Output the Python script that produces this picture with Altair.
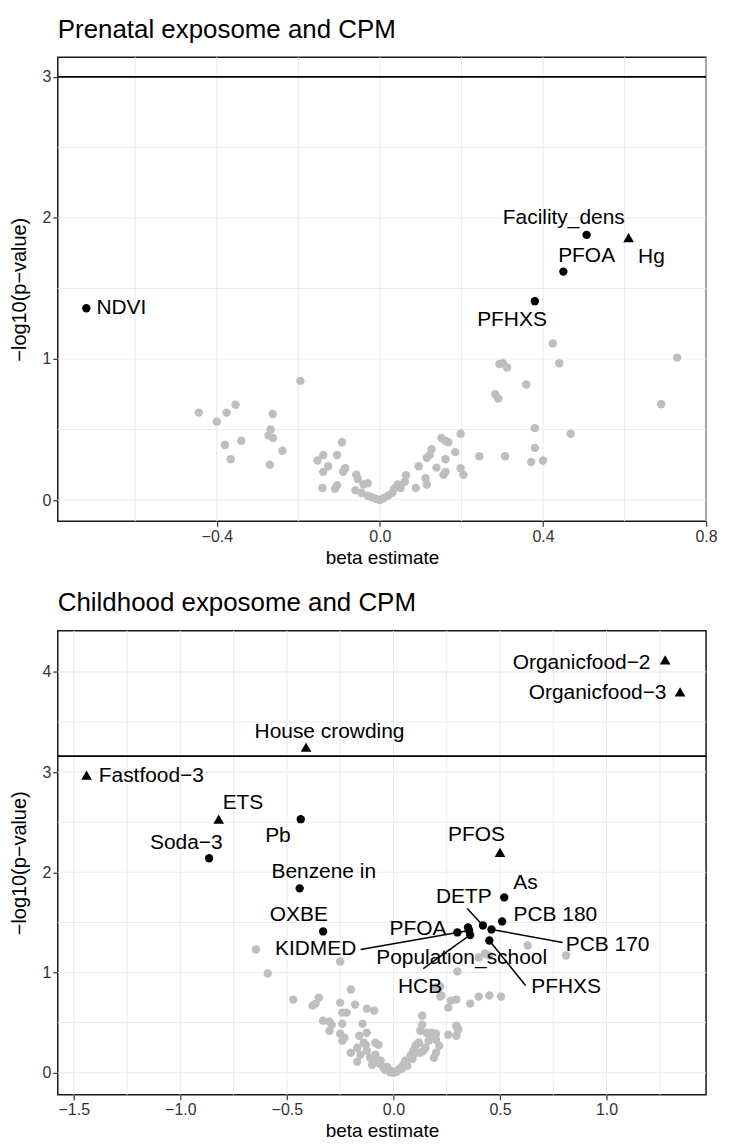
import altair as alt
import pandas as pd

FONT = "Liberation Sans"

# ---------------- Prenatal panel data ----------------
pre_grey_beta = [-0.444, -0.40, -0.376, -0.354, -0.38, -0.34, -0.366,
                 -0.263, -0.268, -0.273, -0.262, -0.239, -0.27, -0.195,
                 -0.153, -0.139, -0.127, -0.139, -0.093, -0.105, -0.085, -0.09,
                 -0.141, -0.11, -0.105, -0.058, -0.054, -0.04, -0.03,
                 -0.06, -0.045, -0.03, -0.02, -0.01, 0.0, 0.01, 0.02, 0.03, 0.035,
                 0.044, 0.051, 0.061, 0.064, 0.088, 0.095, 0.112, 0.115,
                 0.115, 0.122, 0.127, 0.139, 0.156, 0.161, 0.151, 0.161, 0.168,
                 0.161, 0.185, 0.198, 0.198, 0.205, 0.244, 0.307, 0.371, 0.40,
                 0.38, 0.38, 0.468, 0.283, 0.29, 0.359, 0.293, 0.302, 0.312,
                 0.44, 0.424, 0.729, 0.69]
pre_grey_logp = [0.62, 0.556, 0.62, 0.676, 0.39, 0.42, 0.29,
                 0.61, 0.50, 0.457, 0.44, 0.35, 0.25, 0.845,
                 0.28, 0.32, 0.24, 0.20, 0.41, 0.32, 0.225, 0.20,
                 0.085, 0.08, 0.105, 0.18, 0.15, 0.11, 0.12,
                 0.07, 0.05, 0.03, 0.02, 0.01, 0.0, 0.015, 0.03, 0.05, 0.08,
                 0.11, 0.085, 0.13, 0.176, 0.085, 0.24, 0.155, 0.11,
                 0.30, 0.32, 0.36, 0.23, 0.18, 0.20, 0.44, 0.42, 0.41,
                 0.29, 0.34, 0.47, 0.225, 0.18, 0.31, 0.31, 0.27, 0.28,
                 0.37, 0.51, 0.47, 0.75, 0.72, 0.82, 0.965, 0.97, 0.94,
                 0.97, 1.11, 1.01, 0.68]

pre_names = ["NDVI", "Facility_dens", "PFOA", "Hg", "PFHXS"]
pre_beta = [-0.72, 0.507, 0.45, 0.61, 0.38]
pre_logp = [1.36, 1.88, 1.62, 1.86, 1.41]
pre_shape = ["circle", "circle", "circle", "triangle", "circle"]
pre_text_beta = [-0.634, 0.451, 0.507, 0.666, 0.324]
pre_text_logp = [1.36, 2.0, 1.73, 1.72, 1.28]
pre_threshold = [3.0]
pre_xgrid = [-0.6, -0.4, -0.2, 0.0, 0.2, 0.4, 0.6, 0.8]
pre_ygrid = [0.0, 0.5, 1.0, 1.5, 2.0, 2.5, 3.0]
pre_xticks = [-0.4, 0.0, 0.4, 0.8]
pre_yticks = [0, 1, 2, 3]
pre_xdomain = [-0.79, 0.80]
pre_ydomain = [-0.15, 3.14]

# ---------------- Childhood panel data ----------------
ch_grey_beta = [-0.645, -0.59, -0.25, -0.20, -0.47, -0.35, -0.365, -0.38, -0.25, -0.18,
                -0.24, -0.22, -0.125, -0.09, -0.33, -0.30, -0.29, -0.30, -0.24, -0.145,
                0.135, 0.135, -0.25, -0.23, -0.24, -0.16, -0.125, -0.085, -0.07, -0.17,
                -0.155, -0.17, -0.125, -0.11, -0.10, -0.085, -0.06, -0.047, -0.023, 0.0,
                0.023, 0.047, 0.056, 0.08, 0.093, 0.103, 0.12, 0.126, 0.155, 0.18,
                0.20, 0.20, 0.215, 0.20, 0.19, 0.257, 0.295, 0.304, 0.257, 0.295,
                0.36, 0.40, 0.22, 0.20, 0.30, 0.40, 0.63, 0.81, 0.225, 0.27,
                0.45, 0.505, 0.43, 0.45, 0.22, 0.126, 0.30, 0.295, -0.03, -0.065,
                0.035, 0.065, 0.01, -0.01, 0.107, 0.117, 0.14, 0.17, -0.20, -0.14,
                -0.04, 0.04, -0.015, 0.015, 0.06, -0.08, 0.09, 0.15, 0.165, -0.13]
ch_grey_logp = [1.23, 0.99, 1.11, 0.83, 0.73, 0.75, 0.69, 0.67, 0.70, 0.68,
                0.60, 0.60, 0.64, 0.62, 0.52, 0.51, 0.48, 0.42, 0.49, 0.49,
                0.57, 0.48, 0.39, 0.35, 0.32, 0.37, 0.40, 0.30, 0.28, 0.25,
                0.18, 0.11, 0.22, 0.15, 0.08, 0.18, 0.12, 0.05, 0.03, 0.0,
                0.03, 0.08, 0.12, 0.17, 0.22, 0.27, 0.30, 0.20, 0.40, 0.40,
                0.39, 0.33, 0.27, 0.20, 0.15, 0.38, 0.47, 0.43, 0.65, 0.73,
                0.69, 0.76, 0.76, 0.85, 1.01, 1.15, 1.27, 1.17, 0.77, 0.72,
                0.77, 0.76, 1.19, 1.17, 0.86, 0.42, 0.45, 0.37, 0.06, 0.09,
                0.05, 0.07, 0.01, 0.015, 0.20, 0.30, 0.22, 0.38, 0.20, 0.30,
                0.03, 0.04, 0.005, 0.01, 0.09, 0.13, 0.14, 0.25, 0.32, 0.28]

ch_names = ["Organicfood\u22122", "Organicfood\u22123", "House crowding", "Fastfood\u22123",
            "ETS", "Pb", "Soda\u22123", "Benzene in", "OXBE", "KIDMED", "PFOS", "As",
            "PCB 180", "DETP", "PCB 170", "PFOA", "Population_school", "HCB", "PFHXS"]
ch_beta = [1.275, 1.345, -0.41, -1.44, -0.82, -0.435, -0.865, -0.44, -0.33, 0.355,
           0.50, 0.52, 0.51, 0.42, 0.46, 0.30, 0.35, 0.36, 0.45]
ch_logp = [4.12, 3.80, 3.25, 2.97, 2.53, 2.53, 2.14, 1.84, 1.41, 1.42,
           2.20, 1.75, 1.51, 1.47, 1.43, 1.40, 1.45, 1.375, 1.32]
ch_shape = ["triangle", "triangle", "triangle", "triangle", "triangle", "circle", "circle",
            "circle", "circle", "circle", "triangle", "circle", "circle", "circle", "circle",
            "circle", "circle", "circle", "circle"]
ch_text_beta = [0.883, 0.958, -0.30, -1.136, -0.706, -0.542, -0.972, -0.327, -0.444, -0.365,
                0.39, 0.62, 0.76, 0.33, 1.005, 0.115, 0.32, 0.125, 0.81]
ch_text_logp = [4.09, 3.79, 3.40, 2.96, 2.69, 2.36, 2.29, 2.0, 1.57, 1.23,
                2.37, 1.89, 1.57, 1.75, 1.27, 1.43, 1.14, 0.86, 0.86]
ch_seg_from_beta = [-0.154, 0.346, 0.794, 0.62, 0.14]
ch_seg_from_logp = [1.23, 1.64, 1.30, 0.87, 1.04]
ch_seg_to_beta = [0.355, 0.42, 0.46, 0.45, 0.36]
ch_seg_to_logp = [1.42, 1.47, 1.43, 1.32, 1.375]
ch_threshold = [3.16]
ch_xgrid = [-1.5, -1.25, -1.0, -0.75, -0.5, -0.25, 0.0, 0.25, 0.5, 0.75, 1.0, 1.25]
ch_ygrid = [0.0, 0.5, 1.0, 1.5, 2.0, 2.5, 3.0, 3.5, 4.0]
ch_xticks = [-1.5, -1.0, -0.5, 0.0, 0.5, 1.0]
ch_yticks = [0, 1, 2, 3, 4]
ch_xdomain = [-1.575, 1.467]
ch_ydomain = [-0.22, 4.41]

W, H = 651, 466
GRID = "#EBEBEB"


def panel(title, grey_b, grey_p, names, lb, lp, shp, tb, tp, thr, xg, yg, xt, yt,
          xd, yd, seg=None):
    xs = alt.Scale(domain=xd, nice=False, zero=False)
    ys = alt.Scale(domain=yd, nice=False, zero=False)
    xax = alt.Axis(values=xt, labelFlush=False,
                   labelExpr="replace(format(datum.value, '.1f'), '-', '\u2212')")
    yax = alt.Axis(values=yt, format="d", labelFlush=False)
    X = lambda f: alt.X(f, type="quantitative", scale=xs, axis=xax, title="beta estimate")
    Y = lambda f: alt.Y(f, type="quantitative", scale=ys, axis=yax, title="\u2212log10(p\u2212value)")

    gx = alt.Chart(pd.DataFrame({"v": xg})).mark_rule(color=GRID, strokeWidth=1.1).encode(x=X("v"))
    gy = alt.Chart(pd.DataFrame({"v": yg})).mark_rule(color=GRID, strokeWidth=1.1).encode(y=Y("v"))
    grey = alt.Chart(pd.DataFrame({"b": grey_b, "p": grey_p})).mark_point(
        filled=True, color="#BEBEBE", opacity=1, size=72, shape="circle").encode(x=X("b"), y=Y("p"))
    th = alt.Chart(pd.DataFrame({"t": thr})).mark_rule(color="black", strokeWidth=1.8).encode(y=Y("t"))
    lab = pd.DataFrame({"name": names, "b": lb, "p": lp, "shape": shp, "tb": tb, "tp": tp})
    pts = alt.Chart(lab).mark_point(filled=True, color="black", opacity=1).encode(
        x=X("b"), y=Y("p"),
        shape=alt.Shape("shape:N", scale=alt.Scale(domain=["circle", "triangle"],
                                                    range=["circle", "triangle-up"]), legend=None),
        size=alt.Size("shape:N", scale=alt.Scale(domain=["circle", "triangle"],
                                                  range=[70, 115]), legend=None))
    txt = alt.Chart(lab).mark_text(font=FONT, fontSize=21, color="black", align="center",
                                   baseline="middle").encode(x=X("tb"), y=Y("tp"), text="name:N")
    layers = [gx, gy, grey, th]
    if seg is not None:
        sdf = pd.DataFrame({"b": seg[0], "p": seg[1], "b2": seg[2], "p2": seg[3]})
        layers.append(alt.Chart(sdf).mark_rule(color="black", strokeWidth=1.5).encode(
            x=X("b"), y=Y("p"), x2="b2:Q", y2="p2:Q"))
    layers += [pts, txt]
    return alt.layer(*layers).properties(
        width=W, height=H,
        title=alt.TitleParams(title, anchor="start", frame="group", fontSize=26, font=FONT,
                              fontWeight="normal", color="black", offset=14))


top = panel("Prenatal exposome and CPM", pre_grey_beta, pre_grey_logp, pre_names, pre_beta,
            pre_logp, pre_shape, pre_text_beta, pre_text_logp, pre_threshold, pre_xgrid,
            pre_ygrid, pre_xticks, pre_yticks, pre_xdomain, pre_ydomain)
bottom = panel("Childhood exposome and CPM", ch_grey_beta, ch_grey_logp, ch_names, ch_beta,
               ch_logp, ch_shape, ch_text_beta, ch_text_logp, ch_threshold, ch_xgrid,
               ch_ygrid, ch_xticks, ch_yticks, ch_xdomain, ch_ydomain,
               seg=(ch_seg_from_beta, ch_seg_from_logp, ch_seg_to_beta, ch_seg_to_logp))

chart = alt.vconcat(top, bottom, spacing=21).properties(
    padding={"left": 0, "top": 5, "right": 5, "bottom": 0}
).configure_view(stroke="#1a1a1a", strokeWidth=1.5).configure_axis(
    grid=False, domain=False, tickColor="#333333", tickSize=5, tickWidth=1.2,
    labelColor="#333333", labelFontSize=16, labelFont=FONT, titleFont=FONT,
    titleFontSize=19, titleFontWeight="normal", titleColor="black",
    labelPadding=2, titlePadding=4
).configure_axisY(titlePadding=13, titleFontSize=20)

chart.save("out.html", embed_options={"renderer": "svg", "actions": False})
